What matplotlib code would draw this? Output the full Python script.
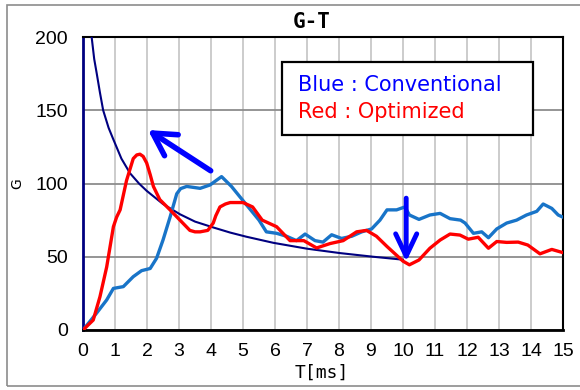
import matplotlib
matplotlib.use('Agg')
import matplotlib.pyplot as plt
from matplotlib.patches import Rectangle

# ---- data ----
t_red = [0, 0.32, 0.53, 0.74, 0.95, 1.05, 1.16, 1.36, 1.57, 1.68, 1.78, 1.88, 1.99, 2.1,
         2.2, 2.4, 2.72, 3.03, 3.34, 3.5, 3.66, 3.9, 4.07, 4.15, 4.28, 4.45, 4.6, 5.0,
         5.3, 5.6, 6.05, 6.47, 6.9, 7.3, 7.72, 8.13, 8.55, 8.86, 9.17, 9.5, 9.8, 10.0,
         10.2, 10.5, 10.84, 11.16, 11.47, 11.78, 12.04, 12.35, 12.67, 12.93, 13.24,
         13.6, 13.9, 14.28, 14.65, 15.0]
g_red = [0, 6.8, 22.7, 43, 70.5, 77, 82, 102, 117, 119.5, 120, 118.5, 114, 106,
         98, 89, 82, 75, 68, 67, 67, 68, 73, 78, 84, 86, 87, 87,
         84, 75, 70.5, 61, 61, 56, 59, 61, 67, 68, 64, 57, 51, 47,
         44.5, 47.8, 55.8, 61.4, 65.5, 64.8, 62, 63.3, 55.8, 60.4, 59.8,
         60, 58, 52, 55, 52.8]

t_blue = [0, 0.17, 0.42, 0.74, 0.95, 1.26, 1.57, 1.83, 2.1, 2.3, 2.5, 2.72, 2.93, 3.05,
          3.24, 3.66, 3.97, 4.33, 4.64, 4.9, 5.2, 5.5, 5.73, 6.05, 6.36, 6.67, 6.94,
          7.25, 7.5, 7.77, 8.08, 8.4, 8.71, 9.02, 9.28, 9.5, 9.8, 10.06, 10.2, 10.5,
          10.84, 11.16, 11.47, 11.8, 11.94, 12.2, 12.46, 12.67, 12.93, 13.24, 13.55,
          13.86, 14.18, 14.38, 14.65, 14.85, 15.0]
g_blue = [0, 4.6, 11.4, 20.5, 28.4, 29.6, 36.4, 40.5, 42, 49, 61.4, 77, 93, 96.5,
          98, 96.7, 99, 104.7, 98, 91, 83, 75, 67, 66, 64, 61, 65.5,
          61, 60, 65, 62.5, 64, 67, 69, 75, 82, 82, 84, 78.5, 75.5,
          78.5, 79.6, 76, 75, 73, 66, 67, 63, 69, 73, 75,
          78.5, 81, 86, 83, 78.5, 77]

t_navy = [0.27, 0.35, 0.43, 0.53, 0.63, 0.8, 0.95, 1.2, 1.47, 1.75, 1.99, 2.5, 3.03,
          3.5, 4.07, 4.6, 5.1, 5.95, 7.0, 8.03, 9.07, 10.0]
g_navy = [200, 185, 175, 162, 150, 138, 130, 117, 107, 100, 95, 86, 79,
          74, 70, 66.5, 63.7, 59.5, 55.5, 52.5, 50, 48]

x_ticks = list(range(0, 16))
y_ticks = [0, 50, 100, 150, 200]
title_text = "G-T"
x_label = "T[ms]"
y_label = "G"
legend_lines = ["Blue : Conventional", "Red : Optimized"]
arrow1 = [(3.99, 108.7), (2.03, 136.5)]   # tail, tip
arrow2 = [(10.1, 90.0), (10.1, 46.6)]

W, H = 580, 390
fig = plt.figure(figsize=(W / 100, H / 100), dpi=100)
fig.patch.set_facecolor('white')

# outer gray frame
fig.patches.append(Rectangle((7 / W, 1 - 386 / H), 1.0, (386 - 5) / H,
                             transform=fig.transFigure, fill=False,
                             ec='#8c8c8c', lw=1.2))

ax = fig.add_axes([83 / W, 1 - 330 / H, 480 / W, 293 / H])
ax.set_xlim(0, 15)
ax.set_ylim(0, 200)
ax.set_xticks(x_ticks)
ax.set_yticks(y_ticks)
ax.set_axisbelow(True)
ax.xaxis.grid(True, color='#c8c8c8', lw=1.3)
ax.yaxis.grid(True, color='#8c8c8c', lw=1.3)
ax.tick_params(length=0, labelsize=14)
ax.tick_params(axis='y', pad=11)
ax.tick_params(axis='x', pad=9)
for lbl in ax.get_xticklabels() + ax.get_yticklabels():
    lbl.set_fontfamily('Liberation Sans')

ax.spines['left'].set_color('#000080')
ax.spines['left'].set_linewidth(2)
ax.spines['bottom'].set_color('black')
ax.spines['bottom'].set_linewidth(2)
ax.spines['top'].set_color('black')
ax.spines['top'].set_linewidth(1.5)
ax.spines['right'].set_color('black')
ax.spines['right'].set_linewidth(1.5)

ax.plot(t_navy, g_navy, color='#000080', lw=1.5, zorder=3)
ax.plot(t_blue, g_blue, color='#1874c8', lw=2.4, zorder=4,
        solid_joinstyle='round', solid_capstyle='round')
ax.plot(t_red, g_red, color='#ff0000', lw=2.4, zorder=4,
        solid_joinstyle='round', solid_capstyle='round')

ax.annotate('', xy=arrow1[1], xytext=arrow1[0],
            arrowprops=dict(arrowstyle='->,head_length=0.8,head_width=0.45',
                            color='#0000ff', lw=4, mutation_scale=20,
                            shrinkA=0, shrinkB=0), zorder=6)
ax.annotate('', xy=arrow2[1], xytext=arrow2[0],
            arrowprops=dict(arrowstyle='->,head_length=0.8,head_width=0.38',
                            color='#0000ff', lw=3.5, mutation_scale=20,
                            shrinkA=0, shrinkB=0), zorder=6)

# legend-like box
ax.add_patch(Rectangle((281.7 / W, 1 - 135 / H), 251.3 / W, 73 / H,
                       transform=fig.transFigure, fill=True, fc='white',
                       ec='black', lw=1.6, zorder=7, clip_on=False))
fig.text(298 / W, 1 - 85 / H, legend_lines[0], color='#0000ff', fontsize=15,
         ha='left', va='center', family='DejaVu Sans', zorder=8)
fig.text(298 / W, 1 - 112 / H, legend_lines[1], color='#ff0000', fontsize=15,
         ha='left', va='center', family='DejaVu Sans', zorder=8)

fig.text(312 / W, 1 - 22 / H, title_text, ha='center', va='center',
         family='DejaVu Sans Mono', fontsize=15, weight='bold')
fig.text(322 / W, 1 - 373 / H, x_label, ha='center', va='center',
         family='DejaVu Sans Mono', fontsize=13)
fig.text(17 / W, 1 - 184 / H, y_label, ha='center', va='center',
         family='DejaVu Sans', fontsize=10, rotation=90)

fig.savefig('out.png', dpi=100)
